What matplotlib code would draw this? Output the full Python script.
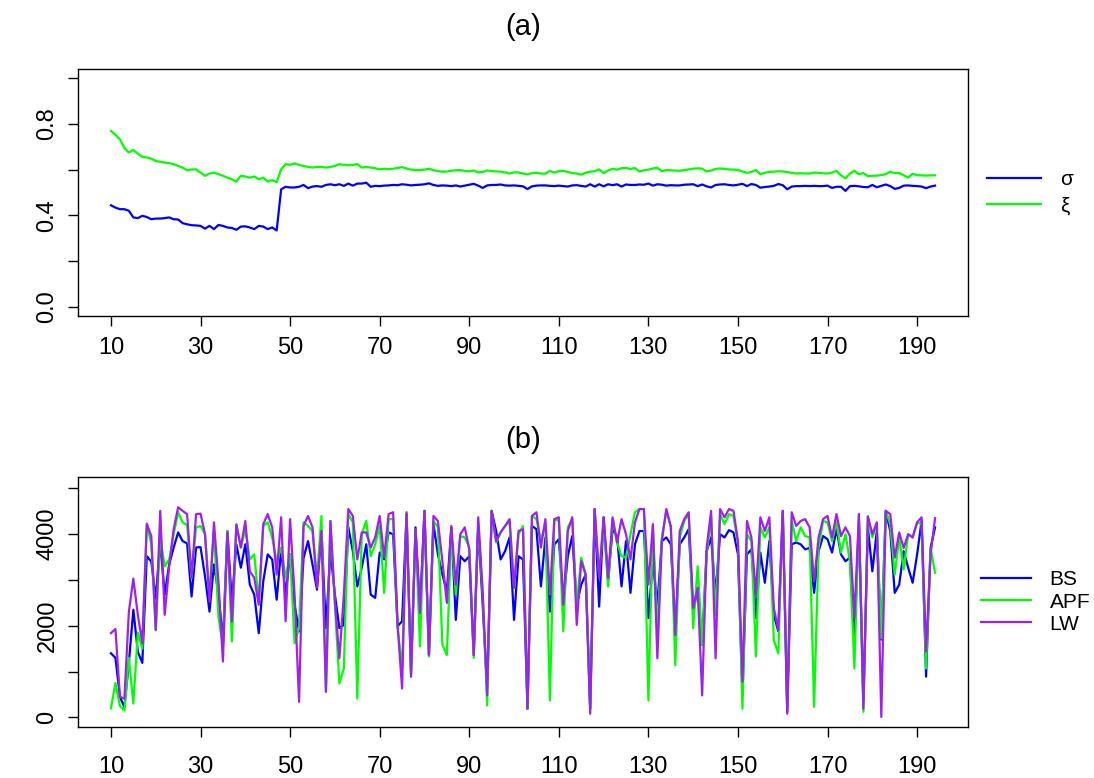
import matplotlib

matplotlib.use("Agg")

import matplotlib.pyplot as plt

plt.rcParams["font.family"] = ["Liberation Sans", "DejaVu Sans"]

# time index shared by both panels
T = list(range(10, 195))

# panel (a): parameter estimates
SIGMA = [
    0.444, 0.434, 0.427, 0.427, 0.420, 0.391, 0.388, 0.398, 0.393, 0.383,
    0.386, 0.386, 0.388, 0.391, 0.383, 0.382, 0.366, 0.361, 0.357, 0.356,
    0.354, 0.342, 0.354, 0.340, 0.358, 0.354, 0.347, 0.345, 0.337, 0.351,
    0.352, 0.347, 0.340, 0.354, 0.351, 0.340, 0.347, 0.334, 0.514, 0.525,
    0.522, 0.522, 0.525, 0.533, 0.519, 0.526, 0.528, 0.525, 0.533, 0.536,
    0.532, 0.536, 0.529, 0.539, 0.530, 0.539, 0.539, 0.543, 0.525, 0.529,
    0.528, 0.530, 0.531, 0.533, 0.532, 0.536, 0.534, 0.531, 0.533, 0.534,
    0.536, 0.540, 0.533, 0.529, 0.531, 0.530, 0.528, 0.531, 0.526, 0.530,
    0.534, 0.538, 0.530, 0.520, 0.531, 0.533, 0.533, 0.535, 0.531, 0.530,
    0.531, 0.529, 0.527, 0.515, 0.527, 0.530, 0.531, 0.531, 0.529, 0.528,
    0.530, 0.528, 0.526, 0.531, 0.532, 0.529, 0.526, 0.536, 0.526, 0.536,
    0.527, 0.536, 0.532, 0.536, 0.526, 0.535, 0.533, 0.533, 0.535, 0.534,
    0.539, 0.530, 0.536, 0.534, 0.530, 0.532, 0.531, 0.531, 0.534, 0.535,
    0.536, 0.528, 0.535, 0.527, 0.522, 0.533, 0.535, 0.536, 0.533, 0.531,
    0.534, 0.538, 0.528, 0.537, 0.533, 0.521, 0.524, 0.526, 0.529, 0.537,
    0.532, 0.514, 0.526, 0.528, 0.528, 0.529, 0.528, 0.529, 0.528, 0.528,
    0.530, 0.520, 0.525, 0.525, 0.507, 0.528, 0.529, 0.527, 0.524, 0.523,
    0.533, 0.523, 0.529, 0.535, 0.528, 0.516, 0.520, 0.530, 0.531, 0.529,
    0.528, 0.526, 0.519, 0.526, 0.530,
]
XI = [
    0.769, 0.752, 0.733, 0.694, 0.675, 0.686, 0.670, 0.656, 0.653, 0.648,
    0.638, 0.634, 0.631, 0.628, 0.624, 0.616, 0.609, 0.597, 0.601, 0.601,
    0.587, 0.573, 0.583, 0.587, 0.580, 0.573, 0.565, 0.558, 0.548, 0.573,
    0.570, 0.565, 0.570, 0.558, 0.565, 0.548, 0.554, 0.545, 0.601, 0.624,
    0.621, 0.627, 0.621, 0.616, 0.612, 0.609, 0.612, 0.612, 0.609, 0.612,
    0.616, 0.624, 0.621, 0.619, 0.621, 0.624, 0.609, 0.612, 0.609, 0.606,
    0.601, 0.604, 0.602, 0.604, 0.607, 0.611, 0.605, 0.600, 0.599, 0.598,
    0.600, 0.604, 0.598, 0.593, 0.591, 0.592, 0.595, 0.597, 0.598, 0.594,
    0.592, 0.596, 0.588, 0.590, 0.596, 0.594, 0.592, 0.591, 0.588, 0.583,
    0.588, 0.588, 0.583, 0.579, 0.585, 0.586, 0.583, 0.582, 0.594, 0.587,
    0.594, 0.594, 0.590, 0.585, 0.583, 0.578, 0.586, 0.591, 0.593, 0.601,
    0.585, 0.596, 0.604, 0.600, 0.606, 0.608, 0.603, 0.607, 0.592, 0.597,
    0.600, 0.605, 0.608, 0.593, 0.598, 0.597, 0.596, 0.595, 0.598, 0.601,
    0.604, 0.606, 0.604, 0.592, 0.596, 0.603, 0.605, 0.603, 0.601, 0.600,
    0.598, 0.592, 0.586, 0.590, 0.598, 0.580, 0.586, 0.590, 0.591, 0.593,
    0.592, 0.589, 0.586, 0.583, 0.584, 0.583, 0.583, 0.587, 0.586, 0.584,
    0.583, 0.587, 0.594, 0.575, 0.562, 0.583, 0.595, 0.580, 0.585, 0.571,
    0.573, 0.574, 0.576, 0.580, 0.591, 0.585, 0.585, 0.576, 0.565, 0.582,
    0.576, 0.575, 0.574, 0.575, 0.575,
]

# panel (b): three filters
BS = [
    1400, 1300, 450, 220, 1200, 2350, 1430, 1190, 3520, 3400,
    2600, 3820, 2680, 3340, 3710, 4040, 3850, 3800, 2640, 3710,
    3720, 3080, 2310, 3340, 2700, 1660, 4070, 2500, 3780, 3270,
    3780, 2900, 2680, 1840, 2970, 3560, 3450, 2570, 3670, 2680,
    3560, 2460, 1880, 3480, 3850, 3340, 2790, 4070, 1950, 3630,
    2680, 1950, 2020, 4150, 3630, 2860, 3270, 3780, 2680, 2610,
    3600, 3450, 4040, 4000, 1990, 2100, 4440, 1000, 4150, 2310,
    4510, 1360, 4220, 3560, 3120, 2750, 4150, 2130, 3520, 3410,
    3520, 1360, 4150, 2460, 630, 4510, 4070, 3450, 3630, 3930,
    2130, 3520, 3450, 190, 4180, 4110, 2860, 3930, 2310, 3780,
    3890, 2500, 3520, 3960, 2460, 2900, 3120, 190, 4550, 2420,
    4370, 2970, 4110, 3960, 2860, 3850, 2720, 3780, 4070, 4070,
    2170, 3410, 2460, 3850, 3930, 3780, 1880, 3780, 3930, 4110,
    2310, 2820, 1580, 3630, 3930, 2680, 4000, 3930, 4090, 4040,
    3560, 480, 3560, 3670, 2170, 3600, 2940, 3850, 2240, 1880,
    4510, 120, 3780, 3820, 3780, 3670, 3700, 2720, 3630, 3960,
    3890, 3600, 4110, 3560, 3410, 3490, 1660, 4290, 340, 4150,
    3190, 4070, 1700, 4510, 4070, 2720, 2900, 3630, 3270, 2940,
    3560, 4290, 890, 3700, 4150,
]
APF = [
    200, 750, 250, 150, 1300, 300, 1850, 1500, 4200, 3800,
    1900, 3930, 3300, 3450, 4000, 4480, 4260, 4200, 3050, 4150,
    4180, 4000, 2680, 4070, 2200, 1550, 4070, 1660, 4220, 3710,
    4110, 3450, 3560, 2530, 4180, 4260, 3930, 3410, 3710, 3050,
    3560, 1620, 1950, 4260, 4180, 4070, 3050, 4400, 560, 4290,
    2460, 740, 1070, 4440, 4260, 410, 4000, 4290, 3520, 3780,
    4180, 2720, 4330, 4330, 1950, 1070, 4440, 890, 4110, 1550,
    4510, 1330, 4290, 4150, 1590, 1360, 4000, 2680, 3960, 3930,
    3710, 1300, 4260, 2680, 260, 4510, 3820, 4040, 4180, 4290,
    2830, 4000, 4180, 190, 4400, 4330, 3850, 4260, 370, 4330,
    4290, 1880, 4150, 4330, 2460, 3490, 3120, 190, 4510, 3120,
    4260, 2860, 4330, 3820, 3520, 3490, 4000, 4480, 4550, 4550,
    370, 4180, 1880, 3930, 4510, 4150, 1140, 3930, 4290, 4440,
    1950, 3300, 1580, 3560, 4370, 2240, 4440, 4220, 4440, 4400,
    3780, 190, 4000, 3850, 1330, 4150, 3930, 4150, 1690, 1400,
    4480, 300, 4290, 3850, 4150, 3960, 3930, 230, 3700, 4290,
    4260, 3850, 4260, 3600, 4000, 3410, 1070, 4440, 120, 4390,
    3930, 4220, 1730, 4510, 4220, 3120, 3930, 3230, 4000, 3930,
    4260, 4220, 1070, 3700, 3160,
]
LW = [
    1840, 1930, 450, 410, 2310, 3030, 2240, 1620, 4230, 3960,
    1910, 4510, 2240, 3300, 4110, 4590, 4510, 4440, 3050, 4440,
    4450, 4000, 2530, 4260, 2970, 1220, 4040, 2090, 4210, 3710,
    4290, 3190, 3050, 2460, 4220, 4440, 4150, 3120, 4370, 2100,
    4330, 2680, 340, 4180, 4400, 4150, 2830, 4070, 560, 4290,
    2530, 1290, 2680, 4550, 4400, 3450, 4040, 4040, 3710, 3930,
    4400, 3490, 4440, 4480, 2020, 630, 4480, 890, 4110, 2280,
    4510, 1360, 4400, 4290, 3410, 2500, 4180, 2900, 4000, 4150,
    3670, 1360, 4370, 2750, 480, 4510, 3850, 4040, 4180, 4330,
    2830, 4070, 4110, 190, 4400, 4480, 3710, 4330, 2680, 4330,
    4370, 2460, 4070, 4370, 2020, 3410, 3120, 80, 4550, 3050,
    4370, 3050, 4370, 3820, 4330, 4000, 3450, 4260, 4550, 4550,
    2900, 4220, 1290, 3850, 4550, 4180, 1800, 4070, 4330, 4480,
    2390, 2830, 480, 3700, 4510, 1290, 4550, 4370, 4550, 4510,
    3850, 780, 4290, 3930, 2680, 4370, 4070, 4370, 2390, 1910,
    4510, 80, 4480, 4180, 4290, 4330, 4150, 2970, 3930, 4330,
    4400, 3930, 4440, 3960, 4150, 3960, 2170, 4440, 190, 4390,
    4000, 4260, 10, 4510, 4440, 3490, 4040, 3700, 4000, 3930,
    4260, 4370, 1440, 3560, 4350,
]

XTICKS = list(range(10, 191, 20))
TOP_YTICKS = [0.0, 0.2, 0.4, 0.6, 0.8, 1.0]
TOP_YLABELS = ["0.0", "", "0.4", "", "0.8", ""]
BOT_YTICKS = [0, 1000, 2000, 3000, 4000, 5000]
BOT_YLABELS = ["0", "", "2000", "", "4000", ""]

W, H = 1094, 778


def style_axes(ax, yticks, ylabels, xpad):
    ax.set_xlim(2.64, 201.36)
    ax.set_xticks(XTICKS)
    ax.set_xticklabels([str(t) for t in XTICKS])
    ax.set_yticks(yticks)
    ax.set_yticklabels(ylabels, rotation=90, va="center")
    ax.tick_params(direction="out", length=7, width=1, labelsize=17, colors="black")
    ax.tick_params(axis="x", pad=xpad)
    ax.tick_params(axis="y", pad=7)
    for spine in ax.spines.values():
        spine.set_linewidth(1.0)
        spine.set_color("black")


def main():
    fig = plt.figure(figsize=(W / 100, H / 100), dpi=100)
    ax1 = fig.add_axes([78 / W, 1 - 316 / H, 890 / W, 247 / H])
    ax2 = fig.add_axes([78 / W, 1 - 727 / H, 890 / W, 250 / H])

    ax1.plot(T, SIGMA, color="#0000FF", lw=1.6, label="\u03c3")
    ax1.plot(T, XI, color="#00FF00", lw=1.6, label="\u03be")
    ax1.set_ylim(-0.04, 1.04)
    style_axes(ax1, TOP_YTICKS, TOP_YLABELS, 8)

    ax2.plot(T, BS, color="#0000FF", lw=1.6, label="BS")
    ax2.plot(T, APF, color="#00FF00", lw=1.6, label="APF")
    ax2.plot(T, LW, color="#A020F0", lw=1.6, label="LW")
    ax2.set_ylim(-210, 5250)
    style_axes(ax2, BOT_YTICKS, BOT_YLABELS, 14)

    ax1.legend(loc="center left", bbox_to_anchor=(1.005, 0.5), frameon=False,
               fontsize=15, handlelength=2.6, handletextpad=0.9, labelspacing=0.35,
               borderaxespad=0.3)
    ax2.legend(loc="center left", bbox_to_anchor=(0.998, 0.5), frameon=False,
               fontsize=15, handlelength=2.4, handletextpad=0.9, labelspacing=0.15,
               borderaxespad=0.3)

    fig.text(523 / W, 1 - 27 / H, "(a)", ha="center", va="center", fontsize=21)
    fig.text(523 / W, 1 - 440 / H, "(b)", ha="center", va="center", fontsize=21)

    fig.savefig("out.png", dpi=100)
    plt.close(fig)


if __name__ == "__main__":
    main()
